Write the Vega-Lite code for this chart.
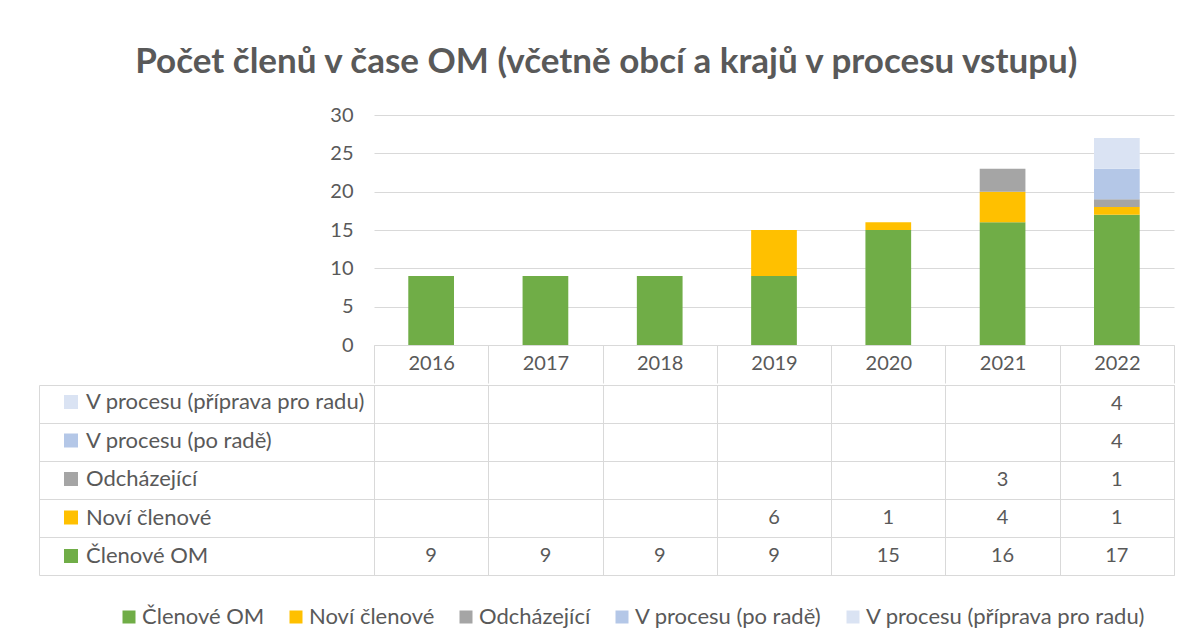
{
  "$schema": "https://vega.github.io/schema/vega-lite/v6.json",
  "background": "white",
  "padding": {"left": 38, "top": 45, "right": 14, "bottom": 10},
  "title": {"text": "Počet členů v čase OM (včetně obcí a krajů v procesu vstupu)", "font": "Lato", "fontSize": 35, "fontWeight": "bold", "color": "#595959", "anchor": "middle", "offset": 25},
  "datasets": {
    "m": [
      {"year": "2016", "series": "Členové OM", "value": 9},
      {"year": "2017", "series": "Členové OM", "value": 9},
      {"year": "2018", "series": "Členové OM", "value": 9},
      {"year": "2019", "series": "Členové OM", "value": 9},
      {"year": "2020", "series": "Členové OM", "value": 15},
      {"year": "2021", "series": "Členové OM", "value": 16},
      {"year": "2022", "series": "Členové OM", "value": 17},
      {"year": "2019", "series": "Noví členové", "value": 6},
      {"year": "2020", "series": "Noví členové", "value": 1},
      {"year": "2021", "series": "Noví členové", "value": 4},
      {"year": "2022", "series": "Noví členové", "value": 1},
      {"year": "2021", "series": "Odcházející", "value": 3},
      {"year": "2022", "series": "Odcházející", "value": 1},
      {"year": "2022", "series": "V procesu (po radě)", "value": 4},
      {"year": "2022", "series": "V procesu (příprava pro radu)", "value": 4}
    ]
  },
  "spacing": 0,
  "vconcat": [
    {
      "width": 800,
      "height": 230,
      "data": {"name": "m"},
      "view": {"stroke": null},
      "transform": [
        {"calculate": "indexof(['Členové OM', 'Noví členové', 'Odcházející', 'V procesu (po radě)', 'V procesu (příprava pro radu)'], datum.series)", "as": "stackRank"}
      ],
      "mark": {"type": "bar", "width": {"band": 0.4}},
      "encoding": {
        "x": {
          "field": "year", "type": "ordinal",
          "scale": {"paddingInner": 0, "paddingOuter": 0},
          "axis": {"title": null, "labelAngle": 0, "domain": true, "domainColor": "#D9D9D9", "ticks": true, "tickBand": "extent", "tickSize": 38, "tickColor": "#D9D9D9", "labelBaseline": "middle", "labelPadding": -20, "labelFontSize": 20, "labelColor": "#595959", "grid": false}
        },
        "y": {
          "field": "value", "type": "quantitative", "stack": "zero",
          "scale": {"domain": [0, 30], "nice": false},
          "axis": {"title": null, "values": [0, 5, 10, 15, 20, 25, 30], "domain": false, "ticks": false, "labelPadding": 21, "labelFontSize": 20, "labelColor": "#595959", "grid": true, "gridColor": "#D9D9D9"}
        },
        "order": {"field": "stackRank", "type": "quantitative", "sort": "ascending"},
        "color": {
          "field": "series", "type": "nominal",
          "scale": {
            "domain": ["Členové OM", "Noví členové", "Odcházející", "V procesu (po radě)", "V procesu (příprava pro radu)"],
            "range": ["#70AD47", "#FFC000", "#A5A5A5", "#B4C7E7", "#DAE3F3"]
          },
          "legend": {"orient": "none", "direction": "horizontal", "legendX": -256, "legendY": 491, "title": null, "symbolType": "square", "symbolSize": 169, "symbolStrokeWidth": 0, "labelFontSize": 22, "labelColor": "#595959", "labelOffset": 2, "columnPadding": 20, "padding": 0, "labelLimit": 400}
        }
      }
    },
    {
      "width": 800,
      "height": 190,
      "data": {"name": "m"},
      "view": {"stroke": "#D9D9D9"},
      "layer": [
        {
          "mark": {"type": "text", "fontSize": 20, "fill": "#595959"},
          "encoding": {
            "x": {
              "field": "year", "type": "ordinal",
              "scale": {"paddingInner": 0, "paddingOuter": 0},
              "axis": {"title": null, "labels": false, "ticks": false, "domain": false, "grid": true, "tickBand": "extent", "gridColor": "#D9D9D9"}
            },
            "y": {
              "field": "series", "type": "nominal",
              "scale": {"domain": ["V procesu (příprava pro radu)", "V procesu (po radě)", "Odcházející", "Noví členové", "Členové OM"], "paddingInner": 0, "paddingOuter": 0},
              "axis": {"title": null, "labels": false, "ticks": false, "domain": false, "grid": true, "tickBand": "extent", "gridColor": "#D9D9D9"}
            },
            "text": {"field": "value", "type": "quantitative"}
          }
        },
        {
          "mark": {"type": "point", "filled": true, "size": 0, "opacity": 0},
          "encoding": {
            "y": {
              "field": "series", "type": "nominal",
              "scale": {"domain": ["V procesu (příprava pro radu)", "V procesu (po radě)", "Odcházející", "Noví členové", "Členové OM"], "paddingInner": 0, "paddingOuter": 0},
              "axis": {"orient": "left", "offset": 335, "title": null, "labels": false, "ticks": true, "tickSize": -335, "tickBand": "extent", "tickColor": "#D9D9D9", "domain": true, "domainColor": "#D9D9D9", "grid": false}
            },
            "fill": {
              "field": "series", "type": "nominal",
              "scale": {
                "domain": ["V procesu (příprava pro radu)", "V procesu (po radě)", "Odcházející", "Noví členové", "Členové OM"],
                "range": ["#DAE3F3", "#B4C7E7", "#A5A5A5", "#FFC000", "#70AD47"]
              },
              "legend": {"orient": "none", "direction": "vertical", "legendX": -314, "legendY": 6, "title": null, "symbolType": "square", "symbolSize": 196, "symbolOpacity": 1, "symbolStrokeWidth": 0, "labelFontSize": 22, "labelColor": "#595959", "labelOffset": 4, "rowPadding": 16.5, "padding": 0, "labelLimit": 400}
            }
          }
        }
      ],
      "resolve": {"axis": {"y": "independent"}}
    }
  ],
  "resolve": {"legend": {"fill": "independent"}},
  "config": {
    "font": "Lato",
    "axis": {"labelFont": "Lato"},
    "legend": {"labelFont": "Lato"},
    "text": {"font": "Lato"}
  }
}
